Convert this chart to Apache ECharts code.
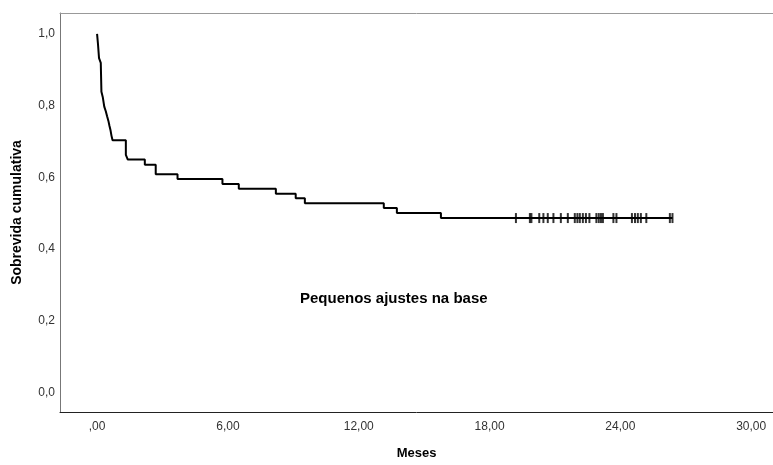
<!DOCTYPE html>
<html>
<head>
<meta charset="utf-8">
<script src="https://cdn.jsdelivr.net/npm/echarts@6.0.0/dist/echarts.min.js"></script>
<style>
html, body { margin: 0; padding: 0; background: #fff; }
#survivalChart { width: 773px; height: 465px; }
</style>
</head>
<body>
<div id="survivalChart"></div>
<script>
// curva de Kaplan-Meier: tempo (meses) e sobrevida após cada degrau
var stepTimes = [0, 0.04, 0.09, 0.17, 0.2, 0.26, 0.33, 0.4, 0.46, 0.52, 0.57, 0.62, 0.66, 0.71,
    1.32, 1.41, 2.19, 2.69, 3.69, 5.75, 6.5, 8.2, 9.11, 9.53, 13.15, 13.75, 15.77];
var stepSurvival = [1.0, 0.973, 0.932, 0.919, 0.838, 0.824, 0.797, 0.784, 0.770, 0.757, 0.743, 0.730, 0.716, 0.703,
    0.662, 0.649, 0.635, 0.608, 0.595, 0.581, 0.568, 0.554, 0.541, 0.527, 0.514, 0.500, 0.486];
// casos censurados (+)
var censorTimes = [19.21, 19.85, 19.92, 20.28, 20.47, 20.67, 20.93, 21.27, 21.59, 21.91, 22.03, 22.14,
    22.28, 22.42, 22.58, 22.90, 23.01, 23.11, 23.20, 23.68, 23.82, 24.53, 24.67, 24.80, 24.94, 25.19, 26.27, 26.39];
var censorSurvival = 0.486;

var xTickValues = [0, 6, 12, 18, 24, 30];
var xTickLabels = [',00', '6,00', '12,00', '18,00', '24,00', '30,00'];
var yTickValues = [0, 0.2, 0.4, 0.6, 0.8, 1.0];
var yTickLabels = ['0,0', '0,2', '0,4', '0,6', '0,8', '1,0'];

function pickLabel (values, labels) {
    return function (v) {
        for (var i = 0; i < values.length; i++) {
            if (Math.abs(values[i] - v) < 1e-6) return labels[i];
        }
        return '';
    };
}

var lineData = [];
for (var i = 0; i < stepTimes.length; i++) {
    lineData.push([stepTimes[i], stepSurvival[i]]);
}
// a linha segue até o último censurado
lineData.push([censorTimes[censorTimes.length - 1], stepSurvival[stepSurvival.length - 1]]);

var censorData = [];
for (var j = 0; j < censorTimes.length; j++) {
    censorData.push([censorTimes[j], censorSurvival]);
}

var chart = echarts.init(document.getElementById('survivalChart'));
var labelFont = 'Liberation Sans';
var option = {
    animation: false,
    backgroundColor: '#fff',
    grid: { left: 60, top: 13, right: 0, bottom: 42 },
    xAxis: [{
        type: 'value',
        min: -1.7,
        max: 31,
        name: 'Meses',
        nameLocation: 'middle',
        nameGap: 35,
        nameTextStyle: { fontFamily: labelFont, fontSize: 13, fontWeight: 'bold', color: '#000' },
        axisLine: { show: true, onZero: false, lineStyle: { color: '#222', width: 1 } },
        axisTick: { show: false },
        splitLine: { show: false },
        axisLabel: {
            customValues: xTickValues,
            formatter: pickLabel(xTickValues, xTickLabels),
            margin: 9,
            fontFamily: labelFont,
            fontSize: 12,
            color: '#333'
        }
    }, {
        type: 'value',
        position: 'top',
        min: -1.7,
        max: 31,
        axisLine: { show: true, onZero: false, lineStyle: { color: '#999', width: 1 } },
        axisTick: { show: false },
        axisLabel: { show: false },
        splitLine: { show: false }
    }],
    yAxis: {
        type: 'value',
        min: -0.055,
        max: 1.058,
        name: 'Sobrevida cumulativa',
        nameLocation: 'middle',
        nameGap: 36,
        nameTextStyle: { fontFamily: labelFont, fontSize: 14, fontWeight: 'bold', color: '#000' },
        axisLine: { show: true, onZero: false, lineStyle: { color: '#777', width: 1 } },
        axisTick: { show: false },
        splitLine: { show: false },
        axisLabel: {
            customValues: yTickValues,
            formatter: pickLabel(yTickValues, yTickLabels),
            margin: 5,
            fontFamily: labelFont,
            fontSize: 12,
            color: '#333'
        }
    },
    graphic: [{
        type: 'text',
        left: 300,
        top: 291,
        style: {
            text: 'Pequenos ajustes na base',
            font: 'bold 15px "Liberation Sans"',
            fill: '#000'
        }
    }],
    series: [{
        name: 'Sobrevida',
        type: 'line',
        step: 'end',
        data: lineData,
        symbol: 'none',
        lineStyle: { color: '#000', width: 2 }
    }, {
        name: 'Censurado',
        type: 'scatter',
        data: censorData,
        symbol: 'rect',
        symbolSize: [2, 10],
        itemStyle: { color: '#000' }
    }]
};
chart.setOption(option);
</script>
</body>
</html>
